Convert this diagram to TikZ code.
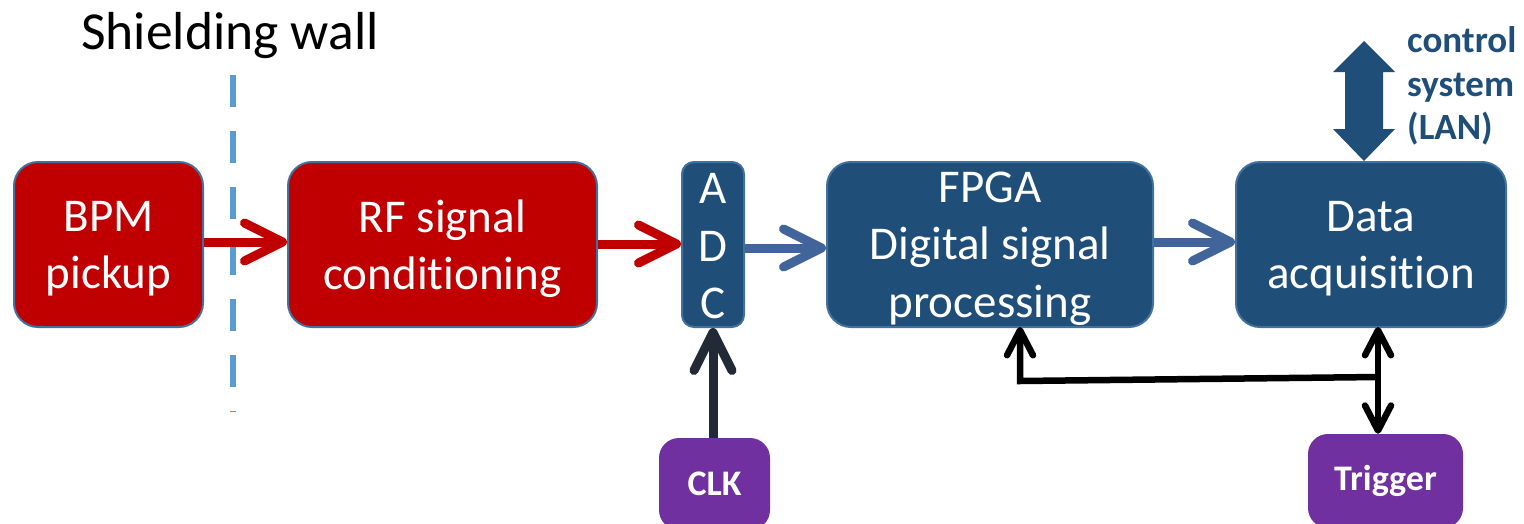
\documentclass[tikz,border=0pt]{standalone}
\usepackage{fontspec}
\setmainfont{Carlito}[Ligatures=NoCommon]
\usetikzlibrary{arrows.meta}
\definecolor{bpmred}{HTML}{C00000}
\definecolor{procblue}{HTML}{1F4E79}
\definecolor{edgeblue}{HTML}{41719C}
\definecolor{linkblue}{HTML}{41649A}
\definecolor{clkdark}{HTML}{222A35}
\definecolor{trigpurple}{HTML}{7030A0}
\definecolor{wallblue}{HTML}{5B9BD5}
\tikzset{
  block/.style={draw=edgeblue, line width=2pt, rounded corners=24pt, inner sep=0pt,
    minimum height=165pt},
  redblock/.style={block, fill=bpmred},
  blueblock/.style={block, fill=procblue},
  boxtext/.style={text=white, align=center, inner sep=0pt,
    font=\fontsize{47}{57.5}\selectfont},
  sigblock/.style={draw=none, fill=trigpurple, rounded corners=20pt, inner sep=0pt,
    text=white, font=\fontsize{36}{40}\selectfont\bfseries},
  bigtip/.tip={Straight Barb[length=38pt,width=38pt,round]},
  smalltip/.tip={Straight Barb[length=25pt,width=26pt,round]},
  chevron/.style={line width=9pt, -bigtip},
  redlink/.style={chevron, draw=bpmred},
  bluelink/.style={chevron, draw=linkblue},
  clklink/.style={chevron, draw=clkdark},
  triglink/.style={line width=6.5pt, draw=black, smalltip-smalltip},
  trigup/.style={line width=6.5pt, draw=black, -smalltip},
}
\begin{document}
\begin{tikzpicture}[x=1pt,y=-1pt]
  \useasboundingbox (0,0) rectangle (1524,523);
  \clip (0,0) rectangle (1524,523);

  % shielding wall
  \node (wall) at (230,36) {\fontsize{53.5}{60}\selectfont Shielding wall};
  \coordinate (walltop) at (233,75);
  \coordinate (wallbot) at (233,412);
  \draw[wallblue, line width=6pt, dash pattern=on 32pt off 24pt] (walltop) -- (wallbot);

  % signal chain
  \node[redblock, minimum width=189pt] (bpm) at (108.5,244.5) {};
  \node[redblock, minimum width=309pt] (rf) at (442.5,244.5) {};
  \node[blueblock, minimum width=62pt, rounded corners=12pt] (adc) at (713,244.5) {};
  \node[blueblock, minimum width=326pt] (fpga) at (990,244.5) {};
  \node[blueblock, minimum width=270pt] (daq) at (1371,244.5) {};

  \node[boxtext] (bpmtext) at ([yshift=-4pt]bpm.center) {BPM\\pickup};
  \node[boxtext] (rftext) at ([yshift=-4pt]rf.center) {RF signal\\conditioning};
  \node[boxtext] (adctext) at ([yshift=-2pt]adc.center) {A\\D\\C};
  \node[boxtext] (fpgatext) at ([yshift=-4pt]fpga.center) {FPGA\\Digital signal\\processing};
  \node[boxtext] (daqtext) at ([yshift=-4pt]daq.center) {Data\\acquisition};

  % clock and trigger sources
  \node[sigblock, minimum width=111pt, minimum height=92pt] (clk) at (714.5,484) {CLK};
  \node[sigblock, minimum width=155pt, minimum height=94pt] (trig) at (1385.5,481) {Trigger};

  % data flow
  \draw[redlink] ([yshift=2.5pt]bpm.east) -- ([yshift=2.5pt]rf.west);
  \draw[redlink] ([yshift=0.5pt]rf.east) -- ([yshift=0.5pt]adc.west);
  \draw[bluelink] ([yshift=-3.5pt]adc.east) -- ([yshift=-3.5pt]fpga.west);
  \draw[bluelink] ([yshift=2.5pt]fpga.east) -- ([yshift=2.5pt]daq.west);

  % clock distribution
  \draw[clklink] (clk.north -| adc.south) -- (adc.south);

  % trigger distribution
  \coordinate (fpgaport) at (1020,327);
  \coordinate (daqport) at (1378,327);
  \coordinate (corner) at (1020,381);
  \coordinate (junction) at (1378,377);
  \draw[triglink] (daqport) -- (daqport |- trig.north);
  \draw[trigup, line join=miter] (junction) -- (corner) -- (fpgaport);

  % link to the control system
  \coordinate (lantop) at (1364,41);
  \fill[procblue] (lantop) -- (1395,72) -- (1383,72) -- (1383,129) -- (1395,129)
    -- (daq.north -| lantop) -- (1333,129) -- (1345,129) -- (1345,72) -- (1333,72) -- cycle;
  \node[anchor=west, align=left, text=procblue, inner sep=0pt,
    font=\fontsize{37}{43.5}\selectfont\bfseries] (lan) at (1407,86) {control\\system\\(LAN)};
\end{tikzpicture}
\end{document}
